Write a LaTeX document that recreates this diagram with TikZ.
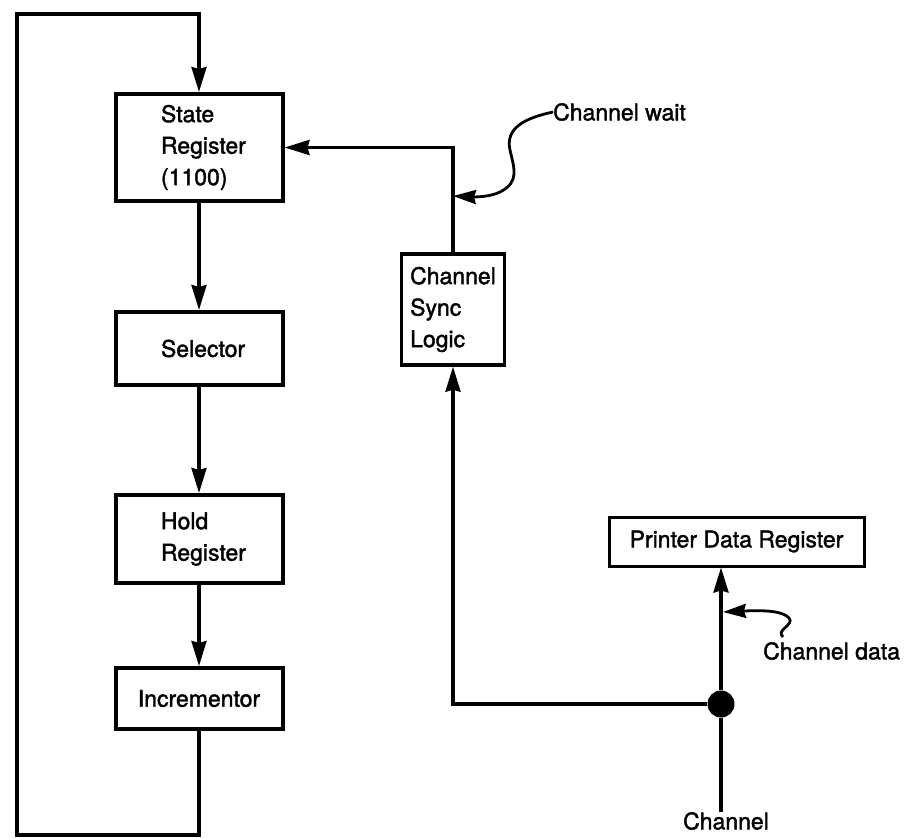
\documentclass[tikz,border=0pt]{standalone}
\usepackage{fontspec}
\setmainfont[FakeBold=1.6]{TeX Gyre Heros}
\usetikzlibrary{arrows.meta,calc}

\tikzset{
  blk/.style={draw, line width=4pt, minimum width=167pt, inner sep=0pt,
              font=\fontsize{23}{31.5}\selectfont},
  lft/.style={align=left, text width=76pt},
  wire/.style={line width=3.2pt},
  arr/.style={wire, -{Stealth[length=25pt,width=15pt,inset=2pt]}},
  lbl/.style={font=\fontsize{23}{31.5}\selectfont, inner sep=0pt},
  tap/.style={line width=2.8pt, -{Stealth[length=23pt,width=14pt,inset=2pt]}},
}

\begin{document}
\begin{tikzpicture}[x=1pt, y=-1pt]
  \useasboundingbox (0,0) rectangle (905,838);

  % left column: state machine datapath
  \node[blk, lft, minimum height=107pt] (sr)  at (199,147.5) {State\\Register\\(1100)};
  \node[blk, lft, minimum height=73pt]  (sel) at (199,348.5) {Selector};
  \node[blk, lft, minimum height=88pt]  (hold) at (199,539) {Hold\\Register};
  \node[blk, minimum height=61pt]       (inc) at (199,698.5) {Incrementor};

  \draw[arr] (sr.south) -- (sel.north);
  \draw[arr] (sel.south) -- (hold.north);
  \draw[arr] (hold.south) -- (inc.north);

  % feedback loop around the column
  \coordinate (loopBL) at (17,835);
  \coordinate (loopTL) at (17,14);
  \draw[arr] (inc.south) |- (loopBL) -- (loopTL) -| (sr.north);

  % channel synchronisation
  \node[blk, align=left, minimum width=103pt, minimum height=111pt, line width=3.4pt]
       (csl) at (453,309.5) {Channel\\Sync\\Logic};
  \draw[arr] (csl.north) |- (sr.east);

  % printer data path
  \node[draw, line width=3pt, minimum width=255pt, minimum height=49pt, inner sep=0pt,
        font=\fontsize{23}{31.5}\selectfont] (pdr) at (736.5,541.5) {Printer Data Register};
  \node[circle, fill=black, minimum size=27pt, inner sep=0pt] (dot) at (721,704) {};
  \node[lbl, anchor=north] (chan) at (726,812) {Channel};

  \draw[wire] (dot |- chan.north) -- (dot);
  \draw[arr] (dot) -- (dot |- pdr.south);
  \draw[arr] (dot) -| (csl.south);

  % signal annotations
  \node[lbl, anchor=west] (cw) at (553,112) {Channel wait};
  \coordinate (cwTip) at (453,196);
  \draw[tap] (cw.west) .. controls (525,118) and (505,128) .. (510,150)
             .. controls (514,168) and (520,182) .. (500,192)
             .. controls (490,197) and (475,197) .. (cwTip);

  \node[lbl, anchor=west] (cd) at (763,651) {Channel data};
  \coordinate (cdStart) at (783,637);
  \coordinate (cdTip) at (723,612);
  \draw[tap] (cdStart) .. controls (775,630) and (795,625) .. (789,618)
             .. controls (783,611) and (765,610) .. (cdTip);
\end{tikzpicture}
\end{document}
